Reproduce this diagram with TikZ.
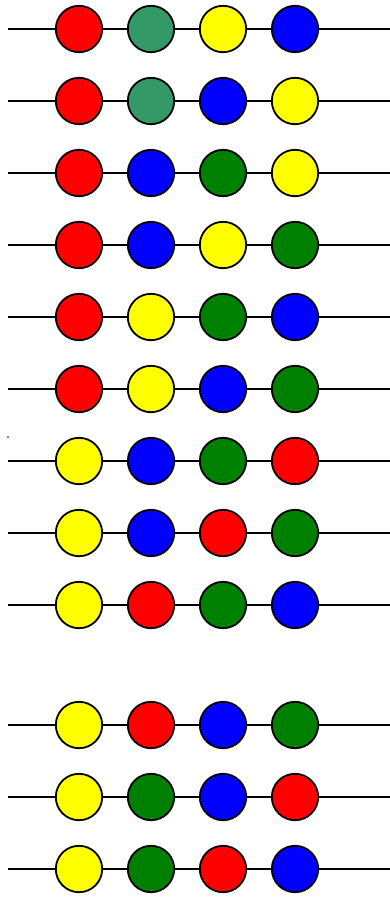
\documentclass[tikz,border=0pt]{standalone}
\usetikzlibrary{positioning}

\definecolor{bead red}{HTML}{FF0000}
\definecolor{bead teal}{HTML}{339966}
\definecolor{bead yellow}{HTML}{FFFF00}
\definecolor{bead blue}{HTML}{0000FF}
\definecolor{bead green}{HTML}{008000}

\begin{document}
\begin{tikzpicture}[
    x=1pt, y=-1pt,
    bead/.style={circle, draw=black, line width=1.8pt, minimum size=46.4pt, inner sep=0pt}, % Style for the coloured beads
    wire/.style={line width=1.8pt} % Style for the string
]

    % Fix the page to the reference size
    \useasboundingbox (0,0) rectangle (390,897);

    % One string of four beads per row
    \foreach \r/\y/\ca/\cb/\cc/\cd in {
        1/29/red/teal/yellow/blue,
        2/101/red/teal/blue/yellow,
        3/173/red/blue/green/yellow,
        4/245/red/blue/yellow/green,
        5/317/red/yellow/green/blue,
        6/389/red/yellow/blue/green,
        7/461/yellow/blue/green/red,
        8/533/yellow/blue/red/green,
        9/605/yellow/red/green/blue,
        10/725/yellow/red/blue/green,
        11/797/yellow/green/blue/red,
        12/869/yellow/green/red/blue} {
        \coordinate (l\r) at (8,\y);
        \coordinate (e\r) at (390,\y);
        \node[bead, fill=bead \ca] (b\r-1) at (79,\y) {};
        \node[bead, fill=bead \cb, right=23.8pt of b\r-1] (b\r-2) {};
        \node[bead, fill=bead \cc, right=23.8pt of b\r-2] (b\r-3) {};
        \node[bead, fill=bead \cd, right=23.8pt of b\r-3] (b\r-4) {};
        \draw[wire] (l\r) -- (b\r-1) -- (b\r-2) -- (b\r-3) -- (b\r-4) -- (e\r);
    }

    % Small stray mark left of row 7
    \fill (8,437) circle (0.8);

\end{tikzpicture}
\end{document}
